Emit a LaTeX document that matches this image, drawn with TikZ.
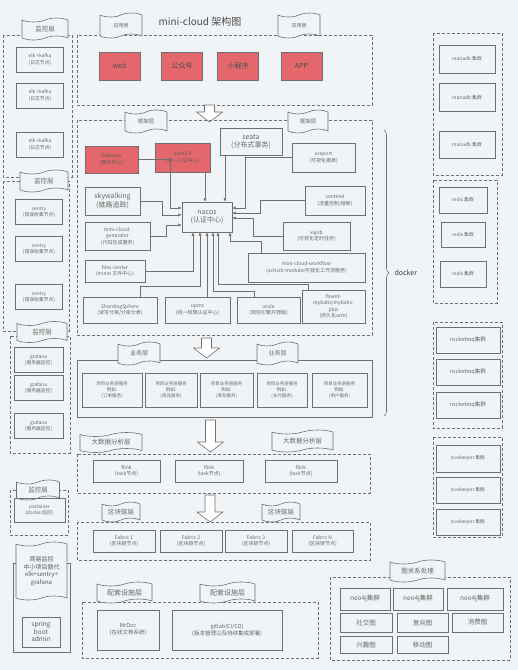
\documentclass[tikz,border=0pt]{standalone}
\usepackage{fontspec}
\setmainfont{Noto Sans CJK SC}
\usetikzlibrary{shapes.symbols, arrows.meta, decorations.pathreplacing}

\definecolor{bgcol}{HTML}{F1F4F6}
\definecolor{linegray}{HTML}{707070}
\definecolor{textgray}{HTML}{666666}
\definecolor{appred}{HTML}{E4686B}

\newcommand{\fsz}[2]{\fontsize{#1}{#2}\selectfont}
% hollow arrow between layers: x, top, bottom
\newcommand{\layerarrow}[3]{%
	\draw[linegray, fill=white, line width=0.6pt, line join=round]
		(#1-5,#2) -- (#1+5,#2) -- (#1+5,#3-10) -- (#1+13,#3-10) -- (#1,#3)
		-- (#1-13,#3-10) -- (#1-5,#3-10) -- cycle;}

\tikzset{
	box/.style = {draw=linegray, line width=0.6pt, align=center, inner sep=0pt, text=textgray, font=\fsz{5}{6.5}},
	monbox/.style = {box, minimum width=47pt, minimum height=25pt, font=\fsz{4.8}{6.2}},
	appbox/.style = {box, fill=appred, minimum width=41pt, minimum height=28pt, font=\fsz{7}{8}, text=black!70},
	fwbox/.style = {box, font=\fsz{5}{6.5}},
	fwbig/.style = {box, font=\fsz{7}{8.5}},
	bizbox/.style = {box, minimum height=34pt, font=\fsz{4.5}{6}},
	taskbox/.style = {box, minimum height=22pt, font=\fsz{5}{6.5}},
	relbox/.style = {box, font=\fsz{6.5}{8}},
	storebox/.style = {box, font=\fsz{4.8}{6}},
	layerbox/.style = {draw=linegray, line width=0.6pt, dash pattern=on 3pt off 2pt},
	layerflag/.style = {tape, draw=linegray, fill=bgcol, line width=0.6pt, inner sep=0pt, align=center,
		text=textgray, tape bend height=4pt, font=\fsz{6.5}{8}},
	nacoslink/.style = {draw=linegray, line width=0.5pt, -{Latex[length=3.5pt, width=3pt]}}
}

\begin{document}
\begin{tikzpicture}[x=1pt, y=-1pt]
	\fill[bgcol] (0,0) rectangle (518,670);
	\useasboundingbox (0,0) rectangle (518,670);

	% monitoring column
	\draw[layerbox] (3,35) rectangle (72,177);
	\draw[layerbox] (3,181) rectangle (69,331);
	\draw[layerbox] (10,336) rectangle (70,453);
	\draw[layerbox] (10,490) rectangle (68,535);
	\node [layerflag, minimum width=46pt, minimum height=22pt] (mon1) at (45,29) {监控层};
	\node [layerflag, minimum width=48pt, minimum height=22pt] (mon2) at (44,181) {监控层};
	\node [layerflag, minimum width=50pt, minimum height=21pt] (mon3) at (42,332) {监控层};
	\node [layerflag, minimum width=43pt, minimum height=20pt] (mon4) at (38,490) {监控层};
	\node [monbox] (elk1) at (40,59.5) {elk +kafka\\(日志节点)};
	\node [monbox] (elk2) at (40,95.5) {elk +kafka\\(日志节点)};
	\node [monbox] (elk3) at (40,144.5) {elk +kafka\\(日志节点)};
	\node [monbox] (sentry1) at (39,212) {sentry\\(错误收集节点)};
	\node [monbox] (sentry2) at (39,249) {sentry\\(错误收集节点)};
	\node [monbox] (sentry3) at (39,297) {sentry\\(错误收集节点)};
	\node [monbox, minimum width=49pt] (grafana1) at (38.5,360) {grafana\\(服务器监控)};
	\node [monbox, minimum width=49pt] (grafana2) at (38.5,388) {grafana\\(服务器监控)};
	\node [monbox, minimum width=49pt] (grafana3) at (38.5,426) {grafana\\(服务器监控)};
	\node [monbox, minimum width=51pt, minimum height=24pt] (portainer) at (39.5,510) {portainer\\(docker监控)};

	% simple monitoring
	\draw[linegray, line width=0.6pt] (13,563) rectangle (70,652);
	\node [layerflag, minimum width=51pt, minimum height=58pt, font=\fsz{6}{7.5}, text=black!65] (simplemon) at (41.5,571)
		{简易监控\\中小项目替代\\elk+sentry+\\grafana};
	\node [box, minimum width=38pt, minimum height=30pt, font=\fsz{6.5}{7.5}, text=black!65] (sba) at (41,632) {spring\\boot\\admin};

	% application layer
	\draw[layerbox] (77,35) rectangle (372,105);
	\node [layerflag, minimum width=42pt, minimum height=25pt, font=\fsz{5}{6}] (appflag1) at (121,25.5) {应用层};
	\node [layerflag, minimum width=42pt, minimum height=25pt, font=\fsz{5}{6}] (appflag2) at (299,25.5) {应用层};
	\node [text=black!70, font=\fsz{10}{12}] (title) at (200,22) {mini-cloud 架构图};
	\node [appbox] (web) at (119.5,66) {web};
	\node [appbox] (wechat) at (182,66) {公众号};
	\node [appbox] (mini) at (238,66) {小程序};
	\node [appbox] (app) at (301.5,66) {APP};
	\layerarrow{209.5}{105}{122}

	% framework layer
	\draw[layerbox] (77,120) rectangle (372,335);
	\node [layerflag, minimum width=42pt, minimum height=23pt, font=\fsz{5.5}{6.5}] (fwflag1) at (146,121.5) {框架层};
	\node [layerflag, minimum width=40pt, minimum height=23pt, font=\fsz{5.5}{6.5}] (fwflag2) at (308,121.5) {框架层};
	\node [fwbox, fill=appred, text=black!65, minimum width=53pt, minimum height=27pt] (gateway) at (111.5,159.5) {Gateway\\(网关中心)};
	\node [fwbox, fill=appred, text=black!65, minimum width=55pt, minimum height=29pt] (auth) at (182.5,157.5) {auth2.0\\(统一认证中心)};
	\node [fwbig, minimum width=62pt, minimum height=27pt] (seata) at (251,141.5) {seata\\(分布式事务)};
	\node [fwbox, minimum width=63pt, minimum height=29pt] (ureport) at (323.5,157.5) {ureport\\(可视化报表)};
	\node [fwbig, minimum width=55pt, minimum height=28pt] (skywalking) at (112.5,201) {skywalking\\(链路追踪)};
	\node [fwbox, minimum width=60pt, minimum height=29pt] (sentinel) at (335,200.5) {sentinel\\(流量控制/熔断)};
	\node [fwbig, minimum width=50pt, minimum height=30pt] (nacos) at (207,217) {nacos\\(认证中心)};
	\node [fwbox, minimum width=65pt, minimum height=28pt] (generator) at (117.5,236) {mini-cloud-\\generator\\(代码生成服务)};
	\node [fwbox, minimum width=67pt, minimum height=28pt] (xxjob) at (316.5,236) {xxjob\\(可视化定时任务)};
	\node [fwbox, minimum width=60pt, minimum height=22pt] (files) at (115,271) {files-center\\(minio 文件中心)};
	\node [fwbox, minimum width=117pt, minimum height=29pt] (workflow) at (306.5,267.5) {mini-cloud-workflow\\(activiti-moduler可视化工作流服务)};
	\node [fwbox, minimum width=74pt, minimum height=26pt] (sharding) at (120,310) {ShardingSphere\\(读写分离/分库分表)};
	\node [fwbox, minimum width=65pt, minimum height=26pt] (upms) at (197.5,310) {upms\\(统一权限认证中心)};
	\node [fwbox, minimum width=63pt, minimum height=26pt] (urule) at (268.5,310) {urule\\(规则引擎开源版)};
	\node [fwbox, minimum width=63pt, minimum height=33pt] (fluent) at (333.5,306.5) {fluent-\\mybatis/mybatis-\\plus\\(持久化orm)};

	% links into nacos
	\draw [nacoslink] (gateway.east) -- (170,159.5) |- ([yshift=9pt]nacos.west);
	\draw [nacoslink] (skywalking.east) -- (162,201) |- ([yshift=2pt]nacos.west);
	\draw [nacoslink] (generator.east) -- (166,236) |- ([yshift=-8pt]nacos.west);
	\draw [nacoslink] ([xshift=-2pt]nacos.north |- auth.south) -- ([xshift=-2pt]nacos.north);
	\draw [nacoslink] ([xshift=18pt]nacos.north |- seata.south) -- ([xshift=18pt]nacos.north);
	\draw [nacoslink] (ureport.west) -- (245,157.5) |- ([yshift=9pt]nacos.east);
	\draw [nacoslink] (sentinel.west) -- (260,200.5) |- ([yshift=4pt]nacos.east);
	\draw [nacoslink] (xxjob.west) -- (253,236) |- ([yshift=-1pt]nacos.east);
	\draw [nacoslink] (files.east) -| ([xshift=-14pt]nacos.south);
	\draw [nacoslink] ([xshift=20pt]sharding.north) -- ++(0,-10) -| ([xshift=-7pt]nacos.south);
	\draw [nacoslink] (nacos.south |- upms.north) -- (nacos.south);
	\draw [nacoslink] ([xshift=-14pt]urule.north) -- ++(0,-5) -| ([xshift=6pt]nacos.south);
	\draw [nacoslink] ([xshift=-25pt]fluent.north) -- ++(0,-5) -| ([xshift=11pt]nacos.south);
	\draw [nacoslink] ([xshift=-45pt]workflow.north) -- ++(0,-11) -| ([xshift=23pt]nacos.south);

	% docker brace
	\draw [linegray, line width=0.6pt, decorate, decoration={brace, amplitude=5pt}] (384,130) -- (384,416);
	\node [anchor=west, text=black!75, font=\fsz{7}{8}] (docker) at (391,273) {docker};

	% business layer
	\layerarrow{206.5}{338}{358}
	\draw [linegray, line width=0.6pt] (77,360) rectangle (372,417);
	\node [layerflag, minimum width=42pt, minimum height=23pt, font=\fsz{6}{7}] (bizflag1) at (139,353.5) {业务层};
	\node [layerflag, minimum width=41pt, minimum height=23pt, font=\fsz{6}{7}] (bizflag2) at (277.5,353.5) {业务层};
	\node [bizbox, minimum width=60pt] (order) at (112,390) {项目业务层服务\\例如:\\(订单服务)};
	\node [bizbox, minimum width=52pt] (goods) at (171,390) {项目业务层服务\\例如:\\(商品服务)};
	\node [bizbox, minimum width=53pt] (stock) at (226.5,390) {项目业务层服务\\例如:\\(库存服务)};
	\node [bizbox, minimum width=50pt] (pay) at (282,390) {项目业务层服务\\例如:\\(支付服务)};
	\node [bizbox, minimum width=55pt] (user) at (339.5,390) {项目业务层服务\\例如:\\(用户服务)};

	% big data layer
	\layerarrow{210.5}{420}{452}
	\draw[layerbox] (77,454) rectangle (370,493);
	\node [layerflag, minimum width=62pt, minimum height=20pt] (bdflag1) at (111,442.5) {大数据分析层};
	\node [layerflag, minimum width=61pt, minimum height=22pt] (bdflag2) at (302.5,441) {大数据分析层};
	\node [taskbox, minimum width=67pt] (flink1) at (126.5,471) {flink\\(task节点)};
	\node [taskbox, minimum width=68pt] (flink2) at (209,471) {flink\\(task节点)};
	\node [taskbox, minimum width=72pt] (flink3) at (301,471) {flink\\(task节点)};

	% blockchain layer
	\layerarrow{210}{495}{522}
	\draw[layerbox] (77,522) rectangle (370,560);
	\node [layerflag, minimum width=38pt, minimum height=20pt] (bcflag1) at (121,512) {区块链层};
	\node [layerflag, minimum width=38pt, minimum height=20pt] (bcflag2) at (281,512) {区块链层};
	\node [taskbox, minimum width=62pt] (fabric1) at (124,541) {Fabric 1\\(区块链节点)};
	\node [taskbox, minimum width=62pt] (fabric2) at (191,541) {Fabric 2\\(区块链节点)};
	\node [taskbox, minimum width=62pt] (fabric3) at (256,541) {Fabric 3\\(区块链节点)};
	\node [taskbox, minimum width=61pt] (fabricn) at (322.5,541) {Fabric N\\(区块链节点)};

	% supporting facilities
	\draw[layerbox] (82,602) rectangle (318,658);
	\node [layerflag, minimum width=55pt, minimum height=21pt, font=\fsz{7}{8}] (supflag1) at (124.5,592.5) {配套设施层};
	\node [layerflag, minimum width=55pt, minimum height=21pt, font=\fsz{7}{8}] (supflag2) at (227.5,592.5) {配套设施层};
	\node [box, minimum width=62pt, minimum height=40pt, font=\fsz{5.5}{7}] (mrdoc) at (128,630) {MrDoc\\(在线文档系统)};
	\node [box, minimum width=110pt, minimum height=40pt, font=\fsz{5.5}{7}] (gitlab) at (227,630) {gitlab(CI/CD)\\(版本管理以及持续集成部署)};

	% graph processing
	\draw[layerbox] (330,577) rectangle (510,660);
	\node [layerflag, minimum width=55pt, minimum height=22pt] (relflag) at (417.5,571) {图关系处理};
	\node [relbox, minimum width=50pt, minimum height=22pt] (neo1) at (365,599) {neo4j集群};
	\node [relbox, minimum width=50pt, minimum height=22pt] (neo2) at (418,599) {neo4j集群};
	\node [relbox, minimum width=56pt, minimum height=22pt] (neo3) at (475,599) {neo4j集群};
	\node [relbox, minimum width=52pt, minimum height=19pt] (social) at (366,622.5) {社交图};
	\node [relbox, minimum width=51pt, minimum height=19pt] (intent) at (422.5,622.5) {意向图};
	\node [relbox, minimum width=51pt, minimum height=19pt] (consume) at (477.5,622.5) {消费图};
	\node [relbox, minimum width=52pt, minimum height=17pt] (interest) at (366,645) {兴趣图};
	\node [relbox, minimum width=51pt, minimum height=17pt] (mobile) at (422.5,645) {移动图};

	% storage column
	\draw[layerbox] (433,33) rectangle (502,175);
	\node [storebox, minimum width=56pt, minimum height=28pt] (maria1) at (467,59) {mariadb 集群};
	\node [storebox, minimum width=56pt, minimum height=28pt] (maria2) at (467,97.5) {mariadb 集群};
	\node [storebox, minimum width=56pt, minimum height=27pt] (maria3) at (467,145) {mariadb 集群};
	\draw[layerbox] (433,180) rectangle (497,303);
	\node [storebox, minimum width=48pt, minimum height=26pt] (redis1) at (463,200) {redis 集群};
	\node [storebox, minimum width=44pt, minimum height=25pt] (redis2) at (463,235) {redis 集群};
	\node [storebox, minimum width=46pt, minimum height=26pt] (redis3) at (463,274) {redis 集群};
	\draw[layerbox] (433,322) rectangle (502,428);
	\node [storebox, minimum width=64pt, minimum height=26pt, font=\fsz{5.5}{6.5}] (mq1) at (468,340) {rocketmq集群};
	\node [storebox, minimum width=64pt, minimum height=26pt, font=\fsz{5.5}{6.5}] (mq2) at (468,372) {rocketmq集群};
	\node [storebox, minimum width=64pt, minimum height=26pt, font=\fsz{5.5}{6.5}] (mq3) at (468,405) {rocketmq集群};
	\draw[layerbox] (433,437) rectangle (502,537);
	\node [storebox, minimum width=64pt, minimum height=27pt] (zk1) at (468,458.5) {zookeeper 集群};
	\node [storebox, minimum width=64pt, minimum height=26pt] (zk2) at (468,490) {zookeeper 集群};
	\node [storebox, minimum width=64pt, minimum height=26pt] (zk3) at (468,522) {zookeeper 集群};
\end{tikzpicture}
\end{document}
